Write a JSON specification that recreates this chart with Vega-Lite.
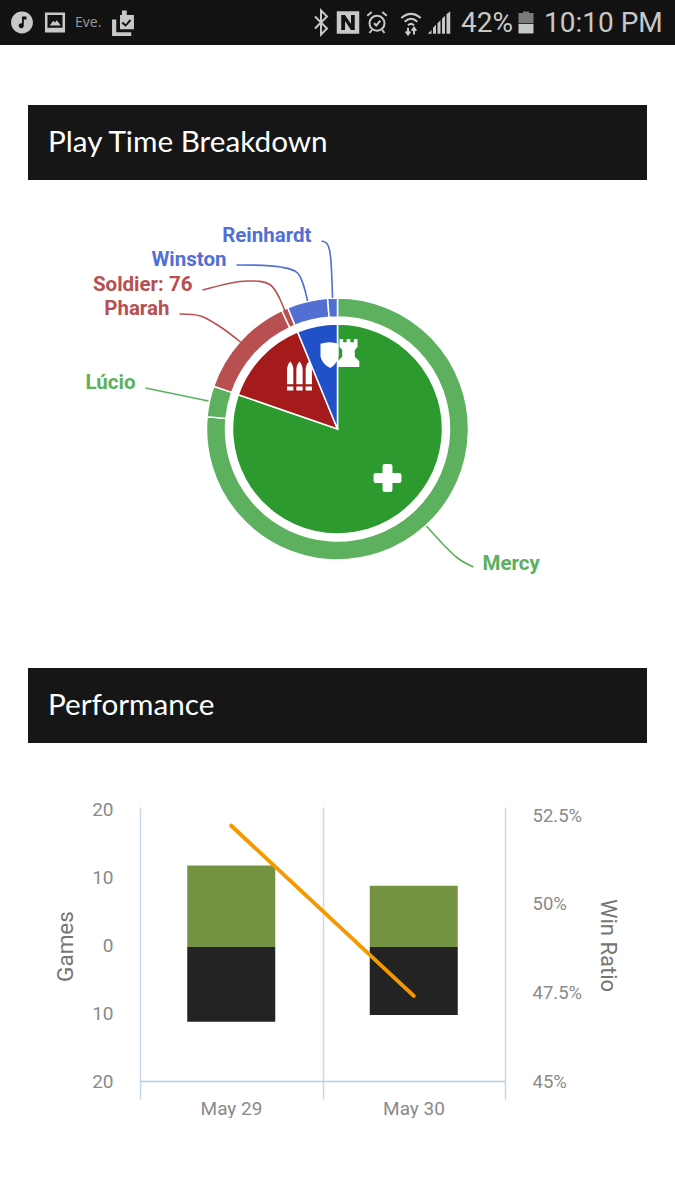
{
  "$schema": "https://vega.github.io/schema/vega-lite/v6.json",
  "background": "white",
  "padding": 0,
  "spacing": 0,
  "center": true,
  "bounds": "flush",
  "resolve": {"scale": {"color": "independent", "shape": "independent"}},
  "datasets": {
    "statusText": [
      {"label": "Eve.", "pos": 75, "kind": "small"},
      {"label": "42%", "pos": 461, "kind": "big"},
      {"label": "10:10 PM", "pos": 544, "kind": "big"}
    ],
    "statusFilled": [
      {"item": "music", "pos": 22},
      {"item": "image", "pos": 55},
      {"item": "clipboard", "pos": 123},
      {"item": "nfc", "pos": 348},
      {"item": "signal", "pos": 439},
      {"item": "battery-top", "pos": 526},
      {"item": "battery-low", "pos": 526}
    ],
    "statusLined": [
      {"item": "bluetooth", "pos": 321},
      {"item": "alarm", "pos": 377},
      {"item": "wifi", "pos": 411}
    ],
    "heroes": [
      {"hero": "Mercy", "role": "Support", "share": 76.5, "rank": 1, "roleRank": 1},
      {"hero": "Lúcio", "role": "Support", "share": 3.8, "rank": 2, "roleRank": 1},
      {"hero": "Pharah", "role": "Offense", "share": 12.7, "rank": 3, "roleRank": 2},
      {"hero": "Soldier: 76", "role": "Offense", "share": 0.8, "rank": 4, "roleRank": 2},
      {"hero": "Winston", "role": "Tank", "share": 5.0, "rank": 5, "roleRank": 3},
      {"hero": "Reinhardt", "role": "Tank", "share": 1.2, "rank": 6, "roleRank": 3}
    ],
    "leaders": [
      {"hero": "Reinhardt", "step": 0, "x": -16, "y": 188},
      {"hero": "Reinhardt", "step": 1, "x": -11, "y": 186},
      {"hero": "Reinhardt", "step": 2, "x": -8, "y": 179},
      {"hero": "Reinhardt", "step": 3, "x": -5, "y": 131},
      {"hero": "Winston", "step": 0, "x": -101, "y": 164},
      {"hero": "Winston", "step": 1, "x": -57, "y": 162},
      {"hero": "Winston", "step": 2, "x": -40, "y": 156},
      {"hero": "Winston", "step": 3, "x": -30, "y": 128},
      {"hero": "Soldier: 76", "step": 0, "x": -135, "y": 139},
      {"hero": "Soldier: 76", "step": 1, "x": -90, "y": 148},
      {"hero": "Soldier: 76", "step": 2, "x": -67, "y": 144},
      {"hero": "Soldier: 76", "step": 3, "x": -53, "y": 119},
      {"hero": "Pharah", "step": 0, "x": -158, "y": 115},
      {"hero": "Pharah", "step": 1, "x": -137, "y": 113},
      {"hero": "Pharah", "step": 2, "x": -117, "y": 102},
      {"hero": "Pharah", "step": 3, "x": -97, "y": 87},
      {"hero": "Lúcio", "step": 0, "x": -192, "y": 41},
      {"hero": "Lúcio", "step": 1, "x": -129, "y": 28},
      {"hero": "Mercy", "step": 0, "x": 136, "y": -138},
      {"hero": "Mercy", "step": 1, "x": 120, "y": -129},
      {"hero": "Mercy", "step": 2, "x": 89, "y": -97}
    ],
    "icons": [
      {"icon": "plus", "x": 50, "y": -49},
      {"icon": "bullets", "x": -38, "y": 53},
      {"icon": "shield", "x": -8, "y": 74},
      {"icon": "rook", "x": 11, "y": 76}
    ],
    "games": [
      {"day": "2016-05-29T12:00:00", "result": "Win", "games": 12},
      {"day": "2016-05-29T12:00:00", "result": "Loss", "games": -11},
      {"day": "2016-05-30T12:00:00", "result": "Win", "games": 9},
      {"day": "2016-05-30T12:00:00", "result": "Loss", "games": -10}
    ],
    "ratio": [
      {"day": "2016-05-29T12:00:00", "winRatio": 52.2},
      {"day": "2016-05-30T12:00:00", "winRatio": 47.4}
    ]
  },
  "vconcat": [
    {
      "width": 675,
      "height": 45,
      "view": {"fill": "#121212", "stroke": null},
      "encoding": {
        "x": {"field": "pos", "type": "quantitative", "scale": {"domain": [0, 675]}, "axis": null}
      },
      "layer": [
        {
          "data": {"name": "statusFilled"},
          "mark": {"type": "point", "filled": true, "size": 900, "strokeWidth": 0, "opacity": 1},
          "encoding": {
            "shape": {
              "field": "item",
              "type": "nominal",
              "legend": null,
              "scale": {
                "domain": ["music", "image", "clipboard", "nfc", "signal", "battery-top", "battery-low"],
                "range": [
                  "M-0.73,0A0.73,0.73,0,1,0,0.73,0A0.73,0.73,0,1,0,-0.73,0Z M0,-0.4H0.3V-0.2H0.12V0.2A0.17,0.17,0,1,1,0,0.05Z",
                  "M-0.67,-0.67H0.67V0.67H-0.67Z M-0.5,-0.5V0.35H0.5V-0.5Z M-0.35,0.2L-0.12,-0.12L0,0L0.12,-0.15L0.38,0.2Z",
                  "M-0.2,-0.5H-0.07V-0.8H0.25V-0.5H0.73V0.45H-0.2Z M-0.1,0.05L0.18,0.28L0.55,-0.12L0.45,-0.22L0.18,0.12L0,-0.05Z M-0.73,-0.2H-0.45V0.65H0.55V0.9H-0.73Z",
                  "M-0.75,-0.75H0.75V0.75H-0.75Z M-0.45,-0.5V0.5H-0.2V-0.1L0.2,0.5H0.45V-0.5H0.2V0.1L-0.2,-0.5Z",
                  "M-0.75,0.75L-0.5,0.5V0.75Z M-0.4,0.75V0.35L-0.2,0.15V0.75Z M-0.1,0.75V0.05L0.1,-0.15V0.75Z M0.2,0.75V-0.25L0.4,-0.45V0.75Z M0.5,0.75V-0.55L0.75,-0.75V0.75Z",
                  "M-0.5,-0.63H-0.2V-0.73H0.2V-0.63H0.5V0.05H-0.5Z",
                  "M-0.5,0.1H0.5V0.73H-0.5Z"
                ]
              }
            },
            "color": {
              "condition": {"test": "datum.item === 'battery-top'", "value": "#7a7a7a"},
              "value": "#c8c8c8"
            }
          }
        },
        {
          "data": {"name": "statusLined"},
          "mark": {"type": "point", "filled": false, "size": 900, "strokeWidth": 2, "color": "#c8c8c8", "opacity": 1},
          "encoding": {
            "shape": {
              "field": "item",
              "type": "nominal",
              "legend": null,
              "scale": {
                "domain": ["bluetooth", "alarm", "wifi"],
                "range": [
                  "M-0.4,-0.4L0.4,0.4L0,0.8V-0.8L0.4,-0.4L-0.4,0.4",
                  "M-0.5,0.05A0.5,0.5,0,1,1,0.5,0.05A0.5,0.5,0,1,1,-0.5,0.05Z M-0.2,0.05L-0.05,0.2L0.22,-0.12 M-0.65,-0.45L-0.35,-0.7 M0.65,-0.45L0.35,-0.7 M-0.35,0.5L-0.5,0.7 M0.35,0.5L0.5,0.7",
                  "M-0.65,-0.3Q0,-0.85,0.65,-0.3 M-0.42,-0.05Q0,-0.45,0.42,-0.05 M-0.2,0.18Q0,0,0.2,0.18 M-0.2,0.35V0.8 M-0.35,0.6L-0.2,0.8L-0.05,0.6 M0.2,0.8V0.35 M0.05,0.55L0.2,0.35L0.35,0.55"
                ]
              }
            }
          }
        },
        {
          "data": {"name": "statusText"},
          "transform": [{"filter": "datum.kind === 'big'"}],
          "mark": {"type": "text", "align": "left", "baseline": "middle", "font": "Roboto", "fontSize": 28, "color": "#c8c8c8", "dy": 1},
          "encoding": {"text": {"field": "label"}}
        },
        {
          "data": {"name": "statusText"},
          "transform": [{"filter": "datum.kind === 'small'"}],
          "mark": {"type": "text", "align": "left", "baseline": "middle", "font": "Open Sans", "fontSize": 14, "color": "#9a9a9a"},
          "encoding": {"text": {"field": "label"}}
        }
      ],
      "resolve": {"scale": {"shape": "independent"}}
    },
    {
      "width": 675,
      "height": 60,
      "data": {"values": []},
      "mark": "text",
      "view": {"stroke": null}
    },
    {
      "width": 619,
      "height": 75,
      "view": {"fill": "#161616", "stroke": null},
      "data": {"values": [{"section": "Play Time Breakdown"}]},
      "mark": {"type": "text", "align": "left", "baseline": "middle", "font": "Lato", "fontSize": 29.7, "color": "white", "dx": 20},
      "encoding": {
        "x": {"datum": 0, "type": "quantitative", "scale": {"domain": [0, 1]}, "axis": null},
        "text": {"field": "section"}
      }
    },
    {
      "width": 675,
      "height": 10,
      "data": {"values": []},
      "mark": "text",
      "view": {"stroke": null}
    },
    {
      "width": 675,
      "height": 478,
      "view": {"stroke": null},
      "layer": [
        {
          "data": {"name": "heroes"},
          "mark": {"type": "arc", "innerRadius": 112, "outerRadius": 131, "stroke": "white", "strokeWidth": 1.5},
          "encoding": {
            "theta": {"field": "share", "type": "quantitative", "stack": true, "scale": {"domain": [0, 100]}},
            "order": {"field": "rank"},
            "color": {
              "field": "hero",
              "type": "nominal",
              "legend": null,
              "scale": {
                "domain": ["Mercy", "Lúcio", "Pharah", "Soldier: 76", "Winston", "Reinhardt", "Support", "Offense", "Tank"],
                "range": ["#5cb05e", "#5cb05e", "#b84f50", "#b84f50", "#5270d2", "#5270d2", "#2c9a2f", "#a51a1a", "#2150c8"]
              }
            }
          }
        },
        {
          "data": {"name": "heroes"},
          "transform": [
            {"aggregate": [{"op": "sum", "field": "share", "as": "share"}], "groupby": ["role", "roleRank"]}
          ],
          "mark": {"type": "arc", "innerRadius": 0, "outerRadius": 105, "stroke": "white", "strokeWidth": 1.5},
          "encoding": {
            "theta": {"field": "share", "type": "quantitative", "stack": true, "scale": {"domain": [0, 100]}},
            "order": {"field": "roleRank"},
            "color": {
              "field": "role",
              "type": "nominal",
              "legend": null,
              "scale": {
                "domain": ["Mercy", "Lúcio", "Pharah", "Soldier: 76", "Winston", "Reinhardt", "Support", "Offense", "Tank"],
                "range": ["#5cb05e", "#5cb05e", "#b84f50", "#b84f50", "#5270d2", "#5270d2", "#2c9a2f", "#a51a1a", "#2150c8"]
              }
            }
          }
        },
        {
          "data": {"name": "icons"},
          "mark": {"type": "point", "filled": true, "size": 900, "strokeWidth": 0, "color": "white", "opacity": 1},
          "encoding": {
            "x": {"field": "x", "type": "quantitative", "scale": {"domain": [-337.5, 337.5], "nice": false, "zero": false}, "axis": null},
            "y": {"field": "y", "type": "quantitative", "scale": {"domain": [-239, 239], "nice": false, "zero": false}, "axis": null},
            "shape": {
              "field": "icon",
              "type": "nominal",
              "legend": null,
              "scale": {
                "domain": ["plus", "bullets", "shield", "rook"],
                "range": [
                  "M-0.33,-0.78Q-0.33,-0.93,-0.18,-0.93H0.18Q0.33,-0.93,0.33,-0.78V-0.33H0.78Q0.93,-0.33,0.93,-0.18V0.18Q0.93,0.33,0.78,0.33H0.33V0.78Q0.33,0.93,0.18,0.93H-0.18Q-0.33,0.93,-0.33,0.78V0.33H-0.78Q-0.93,0.33,-0.93,0.18V-0.18Q-0.93,-0.33,-0.78,-0.33H-0.33Z",
                  "M-0.83,0.55V-0.45Q-0.8,-0.8,-0.62,-0.97Q-0.44,-0.8,-0.41,-0.45V0.55Z M-0.21,0.55V-0.45Q-0.18,-0.8,0,-0.97Q0.18,-0.8,0.21,-0.45V0.55Z M0.41,0.55V-0.45Q0.44,-0.8,0.62,-0.97Q0.8,-0.8,0.83,-0.45V0.55Z M-0.83,0.7H-0.41V0.97H-0.83Z M-0.21,0.7H0.21V0.97H-0.21Z M0.41,0.7H0.83V0.97H0.41Z",
                  "M-0.6,-0.75Q0,-0.95,0.6,-0.75V0.1Q0.5,0.6,0.05,0.87Q-0.5,0.6,-0.6,0.1Z",
                  "M-0.6,-0.93H-0.36V-0.72H-0.12V-0.93H0.12V-0.72H0.36V-0.93H0.6V-0.4L0.42,-0.2V0.25L0.72,0.55V0.93H-0.72V0.55L-0.42,0.25V-0.2L-0.6,-0.4Z"
                ]
              }
            }
          }
        },
        {
          "data": {"name": "leaders"},
          "mark": {"type": "line", "interpolate": "catmull-rom", "strokeWidth": 1.6},
          "encoding": {
            "x": {"field": "x", "type": "quantitative", "axis": null},
            "y": {"field": "y", "type": "quantitative", "axis": null},
            "detail": {"field": "hero"},
            "order": {"field": "step"},
            "color": {
              "field": "hero",
              "type": "nominal",
              "legend": null,
              "scale": {
                "domain": ["Mercy", "Lúcio", "Pharah", "Soldier: 76", "Winston", "Reinhardt", "Support", "Offense", "Tank"],
                "range": ["#5cb05e", "#5cb05e", "#b84f50", "#b84f50", "#5270d2", "#5270d2", "#2c9a2f", "#a51a1a", "#2150c8"]
              }
            }
          }
        },
        {
          "data": {"name": "leaders"},
          "transform": [{"filter": "datum.step === 0 && datum.hero !== 'Mercy'"}],
          "mark": {"type": "text", "align": "right", "baseline": "middle", "font": "Roboto", "fontSize": 20.5, "fontWeight": "bold", "dx": -10, "dy": -5},
          "encoding": {
            "x": {"field": "x", "type": "quantitative", "axis": null},
            "y": {"field": "y", "type": "quantitative", "axis": null},
            "text": {"field": "hero"},
            "color": {
              "field": "hero",
              "type": "nominal",
              "legend": null,
              "scale": {
                "domain": ["Mercy", "Lúcio", "Pharah", "Soldier: 76", "Winston", "Reinhardt", "Support", "Offense", "Tank"],
                "range": ["#5cb05e", "#5cb05e", "#b84f50", "#b84f50", "#5270d2", "#5270d2", "#2c9a2f", "#a51a1a", "#2150c8"]
              }
            }
          }
        },
        {
          "data": {"name": "leaders"},
          "transform": [{"filter": "datum.step === 0 && datum.hero === 'Mercy'"}],
          "mark": {"type": "text", "align": "left", "baseline": "middle", "font": "Roboto", "fontSize": 20.5, "fontWeight": "bold", "dx": 9, "dy": -3},
          "encoding": {
            "x": {"field": "x", "type": "quantitative", "axis": null},
            "y": {"field": "y", "type": "quantitative", "axis": null},
            "text": {"field": "hero"},
            "color": {
              "field": "hero",
              "type": "nominal",
              "legend": null,
              "scale": {
                "domain": ["Mercy", "Lúcio", "Pharah", "Soldier: 76", "Winston", "Reinhardt", "Support", "Offense", "Tank"],
                "range": ["#5cb05e", "#5cb05e", "#b84f50", "#b84f50", "#5270d2", "#5270d2", "#2c9a2f", "#a51a1a", "#2150c8"]
              }
            }
          }
        }
      ]
    },
    {
      "width": 619,
      "height": 75,
      "view": {"fill": "#161616", "stroke": null},
      "data": {"values": [{"section": "Performance"}]},
      "mark": {"type": "text", "align": "left", "baseline": "middle", "font": "Lato", "fontSize": 29.7, "color": "white", "dx": 20},
      "encoding": {
        "x": {"datum": 0, "type": "quantitative", "scale": {"domain": [0, 1]}, "axis": null},
        "text": {"field": "section"}
      }
    },
    {
      "width": 675,
      "height": 66,
      "data": {"values": []},
      "mark": "text",
      "view": {"stroke": null}
    },
    {
      "width": 395,
      "height": 272,
      "view": {"stroke": null},
      "encoding": {
        "x": {
          "field": "day",
          "type": "temporal",
          "title": null,
          "scale": {
            "domain": [
              {"year": 2016, "month": "may", "date": 29},
              {"year": 2016, "month": "may", "date": 31}
            ],
            "range": [0, 365],
            "padding": 0
          },
          "axis": {
            "values": [
              {"year": 2016, "month": "may", "date": 29},
              {"year": 2016, "month": "may", "date": 30},
              {"year": 2016, "month": "may", "date": 31}
            ],
            "labelExpr": "timeFormat(datum.value, '%d') === '31' ? '' : timeFormat(datum.value, '%b %d')",
            "grid": true,
            "gridColor": "#cbd8e8",
            "gridWidth": 1.5,
            "tickSize": 18,
            "tickWidth": 1.5,
            "tickColor": "#c3d5ea",
            "domainColor": "#b5cde8",
            "domainWidth": 1.5,
            "labelOffset": 91,
            "labelPadding": 0,
            "labelFont": "Roboto",
            "labelFontSize": 19,
            "labelColor": "#8a8a8a",
            "labelFlush": false,
            "labelOverlap": false,
            "labelBaseline": "top"
          }
        }
      },
      "layer": [
        {
          "data": {"name": "games"},
          "mark": {"type": "bar", "size": 88},
          "encoding": {
            "y": {
              "field": "games",
              "type": "quantitative",
              "stack": null,
              "title": "Games",
              "scale": {"domain": [-20, 20.3], "range": [274, 0], "nice": false},
              "axis": {
                "values": [-20, -10, 0, 10, 20],
                "labelExpr": "abs(datum.value)",
                "labelOffset": -2,
                "grid": false,
                "ticks": false,
                "domain": false,
                "labelPadding": 27,
                "labelFont": "Roboto",
                "labelFontSize": 19,
                "labelColor": "#8a8a8a",
                "titleFont": "Roboto",
                "titleFontSize": 22.5,
                "titleFontWeight": "normal",
                "titleColor": "#757575",
                "titlePadding": 14
              }
            },
            "color": {
              "field": "result",
              "type": "nominal",
              "legend": null,
              "scale": {"domain": ["Win", "Loss"], "range": ["#739343", "#232323"]}
            }
          }
        },
        {
          "data": {"name": "ratio"},
          "mark": {"type": "line", "color": "#f49a00", "strokeWidth": 4, "strokeCap": "round"},
          "encoding": {
            "y": {
              "field": "winRatio",
              "type": "quantitative",
              "title": "Win Ratio",
              "scale": {"domain": [45, 52.67], "nice": false, "zero": false},
              "axis": {
                "orient": "right",
                "values": [45, 47.5, 50, 52.5],
                "labelExpr": "datum.value + '%'",
                "grid": false,
                "ticks": false,
                "domain": false,
                "labelPadding": -3,
                "labelFont": "Roboto",
                "labelFontSize": 18.5,
                "labelColor": "#8a8a8a",
                "titleFont": "Roboto",
                "titleFontSize": 22,
                "titleFontWeight": "normal",
                "titleColor": "#757575",
                "titlePadding": 14
              }
            }
          }
        }
      ],
      "resolve": {"scale": {"y": "independent"}}
    }
  ],
  "config": {"view": {"stroke": null}}
}
